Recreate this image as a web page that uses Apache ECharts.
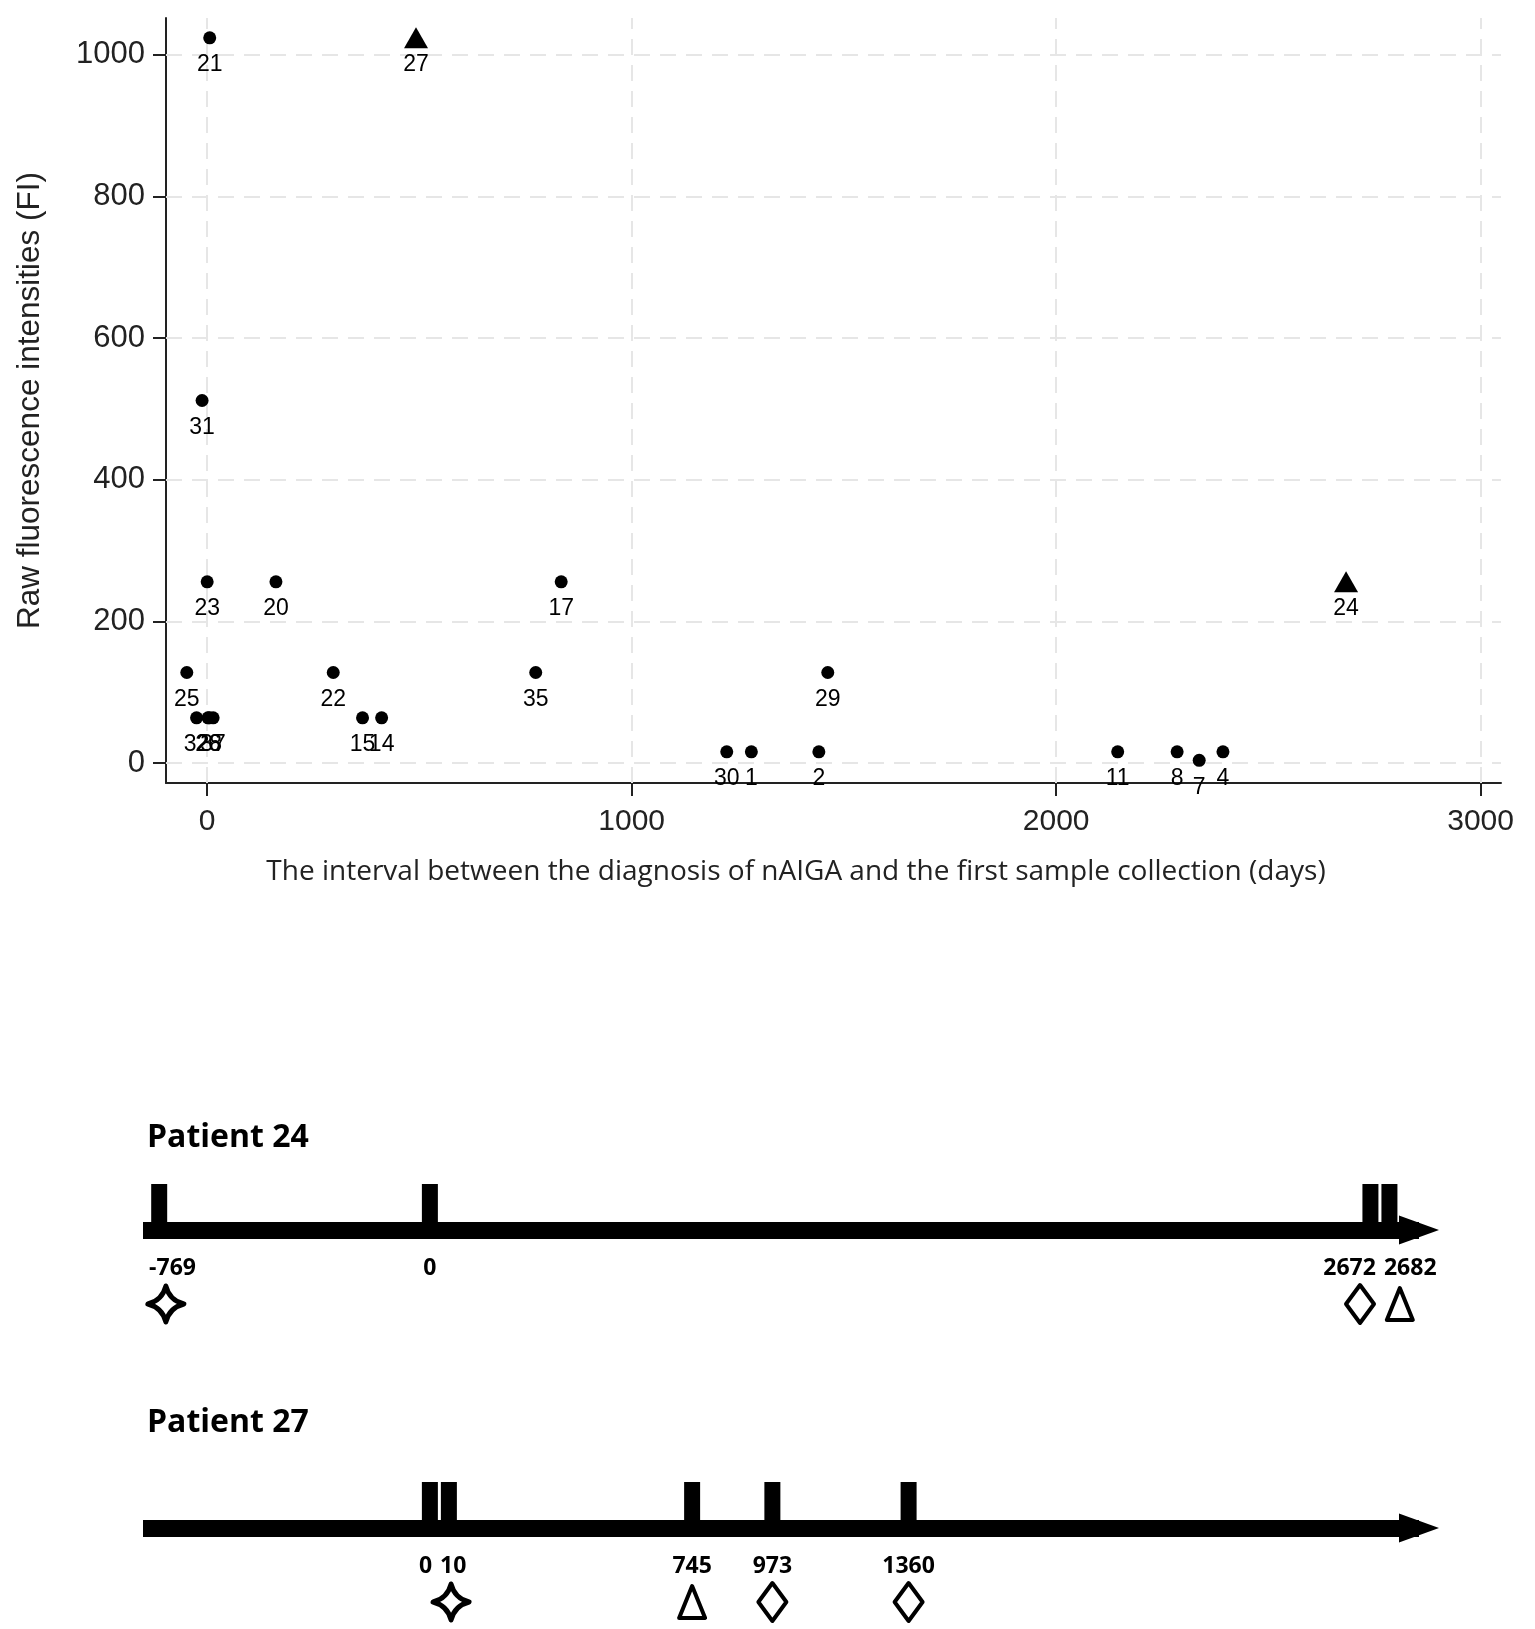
<!DOCTYPE html>
<html>
<head>
<meta charset="utf-8">
<title>nAIGA intervals</title>
<script src="https://cdn.jsdelivr.net/npm/echarts@6/dist/echarts.min.js"></script>
<style>
  html, body { margin: 0; padding: 0; background: #fff; }
  #chart { width: 1535px; height: 1629px; }
</style>
</head>
<body>
<div id="chart"></div>
<script>
"use strict";

// scatter: patients drawn with a dot
var circleIds = ['21', '31', '23', '20', '17', '25', '22', '35', '29', '32', '26', '28', '37', '15', '14', '30', '1', '2', '11', '8', '7', '4'];
var circleDays = [6, -12, 0, 162, 834, -48, 297, 774, 1462, -25, 2, 5, 14, 366, 411, 1224, 1282, 1441, 2145, 2285, 2337, 2393];
var circleFI = [1024, 512, 256, 256, 256, 128, 128, 128, 128, 64, 64, 64, 64, 64, 64, 16, 16, 16, 16, 16, 4, 16];

// scatter: patients drawn with a triangle
var triangleIds = ['27', '24'];
var triangleDays = [492, 2683];
var triangleFI = [1024, 256];

var xTicks = [0, 1000, 2000, 3000];
var yTicks = [0, 200, 400, 600, 800, 1000];

// timelines (days from diagnosis), mark under each event
var patient24Days = [-769, 0, 2672, 2682];
var patient24Marks = ['star', '', 'diamond', 'triangle'];
var patient27Days = [0, 10, 745, 973, 1360];
var patient27Marks = ['', 'star', 'triangle', 'diamond', 'diamond'];

var AXIS_COLOR = '#222';
var GRID_COLOR = '#e6e6e6';
var ARIAL = '"Liberation Sans", Arial, sans-serif';
var SEGOE = '"Open Sans", "Noto Sans", sans-serif';

var BAR_STEP = 19;
var BAR_WIDTH = 16;
var TL_FONT = 23;
var LABEL_GAP = 8;

function labelWidth(text) {
	var w = 0;
	for (var i = 0; i < text.length; i++) {
		w += text[i] === '-' ? 0.33 * TL_FONT : 0.572 * TL_FONT;
	}
	return w;
}

// spread bars / labels that would sit on top of each other
function layoutTimeline(days, api, coordSys) {
	var bars = [];
	for (var i = 0; i < days.length; i++) {
		var x = api.coord([days[i], 0])[0];
		if (i > 0 && x < bars[i - 1] + BAR_STEP) x = bars[i - 1] + BAR_STEP;
		bars.push(x);
	}
	var widths = days.map(function(d) { return labelWidth(String(d)); });
	var labels = bars.slice();
	for (var j = 1; j < days.length; j++) {
		var need = (widths[j - 1] + widths[j]) / 2 + LABEL_GAP;
		if (labels[j] - labels[j - 1] < need) {
			var mid = (bars[j - 1] + bars[j]) / 2;
			labels[j - 1] = mid - need / 2;
			labels[j] = mid + need / 2;
		}
	}
	var minLeft = coordSys.x + 6 + widths[0] / 2;
	if (labels[0] < minLeft) labels[0] = minLeft;
	return { bars: bars, labels: labels };
}

function markShape(kind, cx, cy) {
	var stroke = { fill: 'none', stroke: '#000', lineWidth: 4, lineJoin: 'round' };
	if (kind === 'star') {
		return {
			type: 'path',
			shape: {
				pathData: 'M0,-20 Q4,-4 20,0 Q4,4 0,20 Q-4,4 -20,0 Q-4,-4 0,-20 Z',
				x: cx - 19, y: cy - 18, width: 38, height: 36, layout: 'center'
			},
			style: { fill: '#fff', stroke: '#000', lineWidth: 5, lineJoin: 'round' }
		};
	}
	if (kind === 'diamond') {
		return { type: 'polygon', shape: { points: [[cx, cy - 19], [cx + 14, cy], [cx, cy + 19], [cx - 14, cy]] }, style: stroke };
	}
	if (kind === 'triangle') {
		return { type: 'polygon', shape: { points: [[cx, cy - 16], [cx + 13, cy + 16], [cx - 13, cy + 16]] }, style: stroke };
	}
	return null;
}

function timelineRenderer(days, marks) {
	return function(params, api) {
		var i = params.dataIndex;
		var lay = layoutTimeline(days, api, params.coordSys);
		var top = api.coord([days[i], 1])[1];
		var base = api.coord([days[i], 0])[1];
		var children = [
			{ type: 'rect', shape: { x: lay.bars[i] - BAR_WIDTH / 2, y: top, width: BAR_WIDTH, height: base - top }, style: { fill: '#000' } },
			{
				type: 'text',
				style: {
					x: lay.labels[i], y: base + 38, text: String(days[i]),
					fontFamily: SEGOE, fontWeight: 'bold', fontSize: TL_FONT,
					fill: '#000', align: 'center', verticalAlign: 'middle'
				}
			}
		];
		var shape = markShape(marks[i], (lay.bars[i] + lay.labels[i]) / 2, base + 74);
		if (shape) children.push(shape);
		return { type: 'group', children: children };
	};
}

function timelineAxes(gridIndex) {
	return {
		x: {
			type: 'value', gridIndex: gridIndex, min: -815, max: 2810,
			axisLine: { show: true, onZero: false, symbol: ['none', 'triangle'], symbolSize: [29, 40], lineStyle: { color: '#000', width: 17, cap: 'butt' } },
			axisTick: { show: false }, axisLabel: { show: false }, splitLine: { show: false }
		},
		y: { type: 'value', gridIndex: gridIndex, min: 0, max: 1, show: false }
	};
}

var tl24 = timelineAxes(1);
var tl27 = timelineAxes(2);

var gridLines = xTicks.map(function(v) { return { xAxis: v }; })
	.concat(yTicks.map(function(v) { return { yAxis: v }; }));

var pointLabel = {
	show: true,
	position: 'inside',
	offset: [0, 27],
	fontSize: 23,
	fontFamily: ARIAL,
	color: '#000',
	formatter: function(p) { return p.data[2]; }
};

function plain(v) { return String(v); }

var chart = echarts.init(document.getElementById('chart'));

chart.setOption({
	animation: false,
	backgroundColor: '#fff',
	title: [
		{ text: 'Patient 24', left: 147, top: 1122, padding: 0, textStyle: { fontFamily: SEGOE, fontWeight: 'bold', fontSize: 32, color: '#000' } },
		{ text: 'Patient 27', left: 147, top: 1407, padding: 0, textStyle: { fontFamily: SEGOE, fontWeight: 'bold', fontSize: 32, color: '#000' } }
	],
	grid: [
		{ left: 166, right: 34, top: 18, height: 765 },
		{ left: 143, right: 116, top: 1184, height: 46 },
		{ left: 143, right: 116, top: 1482, height: 46 }
	],
	xAxis: [
		{
			type: 'value', gridIndex: 0, min: -97, max: 3048,
			name: 'The interval between the diagnosis of nAIGA and the first sample collection (days)',
			nameLocation: 'middle', nameGap: 75,
			nameTextStyle: { fontFamily: SEGOE, fontSize: 28, color: '#222', padding: [0, 75, 0, 0] },
			axisLine: { onZero: false, lineStyle: { color: AXIS_COLOR, width: 2 } },
			axisTick: { length: 13, lineStyle: { color: AXIS_COLOR, width: 2 }, customValues: xTicks },
			axisLabel: { customValues: xTicks, formatter: plain, fontSize: 30, fontFamily: ARIAL, color: '#222', margin: 24 },
			splitLine: { show: false }
		},
		tl24.x, tl27.x
	],
	yAxis: [
		{
			type: 'value', gridIndex: 0, min: -28, max: 1052,
			name: 'Raw fluorescence intensities (FI)',
			nameLocation: 'middle', nameGap: 120,
			nameTextStyle: { fontFamily: ARIAL, fontSize: 31.5, color: '#222' },
			axisLine: { show: true, onZero: false, lineStyle: { color: AXIS_COLOR, width: 2 } },
			axisTick: { show: true, length: 13, lineStyle: { color: AXIS_COLOR, width: 2 }, customValues: yTicks },
			axisLabel: { customValues: yTicks, formatter: plain, fontSize: 31, fontFamily: ARIAL, color: '#222', margin: 21 },
			splitLine: { show: false }
		},
		tl24.y, tl27.y
	],
	series: [
		{
			type: 'scatter',
			xAxisIndex: 0, yAxisIndex: 0,
			symbol: 'circle', symbolSize: 13,
			itemStyle: { color: '#000', opacity: 1 },
			label: pointLabel,
			data: circleDays.map(function(d, i) { return [d, circleFI[i], circleIds[i]]; }),
			markLine: {
				silent: true, z: 1,
				symbol: ['none', 'none'],
				label: { show: false },
				lineStyle: { color: GRID_COLOR, width: 2, type: [16, 10] },
				data: gridLines
			}
		},
		{
			type: 'scatter',
			xAxisIndex: 0, yAxisIndex: 0,
			symbol: 'triangle', symbolSize: [24, 21],
			itemStyle: { color: '#000', opacity: 1 },
			label: pointLabel,
			data: triangleDays.map(function(d, i) { return [d, triangleFI[i], triangleIds[i]]; })
		},
		{
			type: 'custom',
			xAxisIndex: 1, yAxisIndex: 1,
			renderItem: timelineRenderer(patient24Days, patient24Marks),
			data: patient24Days.map(function(d) { return [d, 1]; })
		},
		{
			type: 'custom',
			xAxisIndex: 2, yAxisIndex: 2,
			renderItem: timelineRenderer(patient27Days, patient27Marks),
			data: patient27Days.map(function(d) { return [d, 1]; })
		}
	]
});
</script>
</body>
</html>
